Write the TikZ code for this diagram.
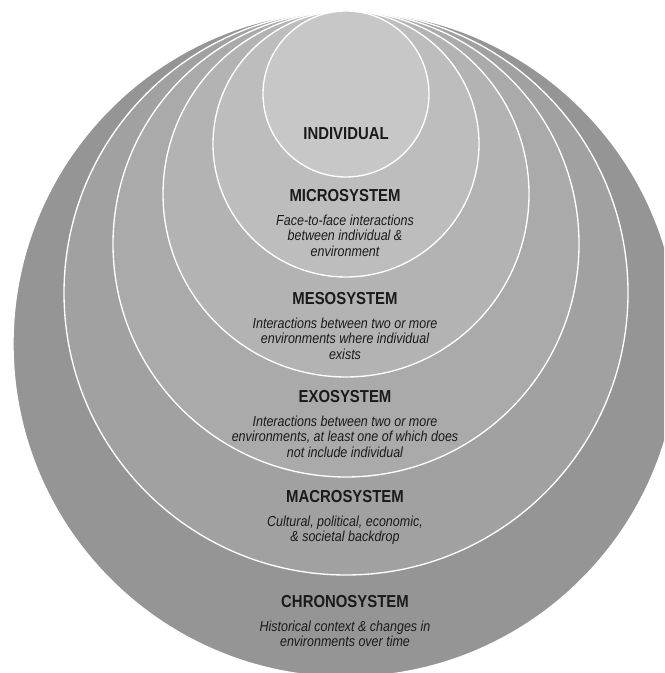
\documentclass[tikz,border=0pt]{standalone}
\usepackage{fontspec}
\newfontfamily\sysfont[FakeStretch=0.86]{Liberation Sans}
\usepackage{tikz}
\usetikzlibrary{positioning}
\definecolor{layindiv}{HTML}{C7C7C7}
\definecolor{laymicro}{HTML}{BDBDBD}
\definecolor{laymeso}{HTML}{B3B3B3}
\definecolor{layexo}{HTML}{AAAAAA}
\definecolor{laymacro}{HTML}{A1A1A1}
\definecolor{laychrono}{HTML}{959595}
\definecolor{systext}{HTML}{1A1A1A}
\tikzset{
  layer/.style={
    circle, draw=white, line width=1pt,
    inner sep=0pt,
  },
  syshead/.style={
    font=\sysfont\bfseries\fontsize{13}{15}\selectfont,
    text=systext, inner sep=0pt,
  },
  sysdesc/.style={
    font=\sysfont\itshape\fontsize{10.9}{11.6}\selectfont,
    text=systext, inner sep=0pt, align=center,
  },
}

\begin{document}
\begin{tikzpicture}[x=0.75pt, y=0.75pt, node distance=9pt]

  \useasboundingbox (0,0) rectangle (664,673);
  \clip (0,0) rectangle (664,673);

  % Nested system layers
  \node[layer, fill=laychrono, minimum size=666*0.75pt] (chrono) at (346,329) {};
  \node[layer, fill=laymacro, minimum size=564*0.75pt] (macro) at (346,380) {};
  \node[layer, fill=layexo, minimum size=466*0.75pt] (exo) at (346,429) {};
  \node[layer, fill=laymeso, minimum size=366*0.75pt] (meso) at (346,479) {};
  \node[layer, fill=laymicro, minimum size=266*0.75pt] (micro) at (346,529) {};
  \node[layer, fill=layindiv, minimum size=166*0.75pt] (indiv) at (346,579) {};

  % Labels
  \node[syshead] (indivhead) at (346,539) {INDIVIDUAL};

  \node[syshead] (microhead) at (345,477) {MICROSYSTEM};
  \node[sysdesc, below=of microhead] (microdesc)
    {Face-to-face interactions\\between individual \&\\environment};

  \node[syshead] (mesohead) at (345,374) {MESOSYSTEM};
  \node[sysdesc, below=of mesohead] (mesodesc)
    {Interactions between two or more\\environments where individual\\exists};

  \node[syshead] (exohead) at (345,276) {EXOSYSTEM};
  \node[sysdesc, below=of exohead] (exodesc)
    {Interactions between two or more\\environments, at least one of which does\\not include individual};

  \node[syshead] (macrohead) at (345,176) {MACROSYSTEM};
  \node[sysdesc, below=of macrohead] (macrodesc)
    {Cultural, political, economic,\\\& societal backdrop};

  \node[syshead] (chronohead) at (345,71) {CHRONOSYSTEM};
  \node[sysdesc, below=of chronohead] (chronodesc)
    {Historical context \& changes in\\environments over time};

\end{tikzpicture}
\end{document}
